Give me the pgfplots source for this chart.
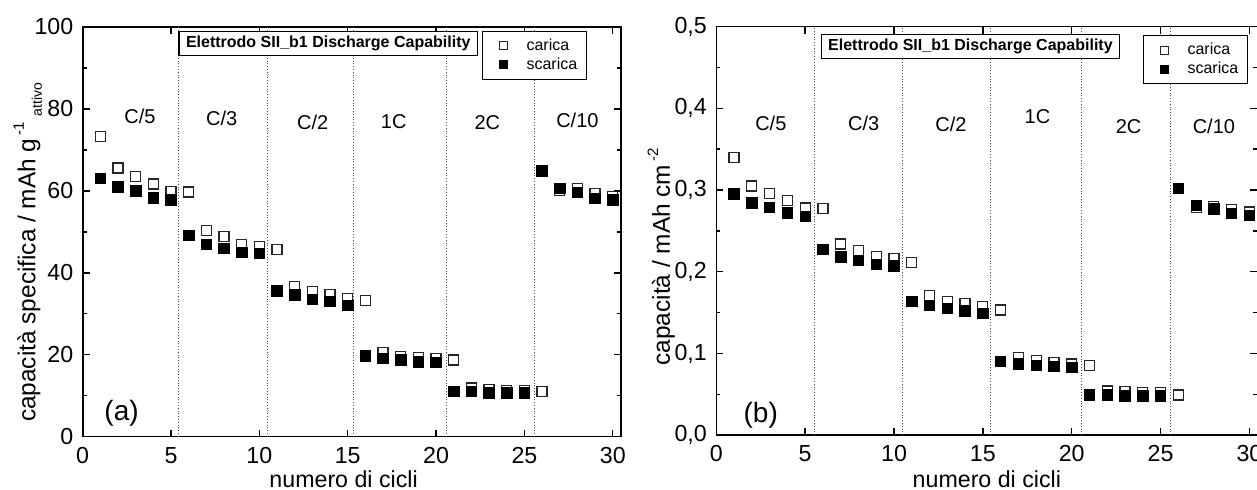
\documentclass[border=0pt]{standalone}
\usepackage{pgfplots}
\pgfplotsset{compat=1.18}
\usepackage{fontspec}
\setmainfont{Liberation Sans}

\pgfplotstableread{
x carica scarica
1 73.2 63.1
2 65.6 61.0
3 63.5 60.0
4 61.7 58.3
5 59.8 57.8
6 59.7 49.1
7 50.4 47.0
8 48.8 45.9
9 47.0 45.0
10 46.5 44.7
11 45.6 35.6
12 36.7 34.6
13 35.5 33.5
14 34.7 33.0
15 33.7 32.1
16 33.2 19.7
17 20.6 19.1
18 19.6 18.7
19 19.3 18.3
20 19.0 18.1
21 18.7 11.0
22 11.9 11.0
23 11.6 10.7
24 11.3 10.7
25 11.3 10.7
26 11.0 64.9
27 60.1 60.6
28 60.5 59.6
29 59.3 58.2
30 58.7 57.8
}\tabA

\pgfplotstableread{
x carica scarica
1 0.340 0.295
2 0.305 0.284
3 0.296 0.279
4 0.287 0.272
5 0.278 0.268
6 0.277 0.227
7 0.234 0.218
8 0.226 0.214
9 0.219 0.209
10 0.216 0.207
11 0.211 0.164
12 0.171 0.159
13 0.164 0.155
14 0.161 0.152
15 0.157 0.149
16 0.153 0.090
17 0.095 0.087
18 0.091 0.085
19 0.089 0.084
20 0.087 0.083
21 0.085 0.049
22 0.054 0.049
23 0.053 0.048
24 0.052 0.048
25 0.052 0.048
26 0.049 0.302
27 0.279 0.281
28 0.280 0.277
29 0.276 0.271
30 0.273 0.269
}\tabB

\tikzset{
  ann/.style={font=\fontsize{10}{12}\selectfont},
  tbox/.style={draw=black, line width=0.6pt, fill=white, inner xsep=3.5pt, inner ysep=2.3pt,
    font=\bfseries\fontsize{8}{9.5}\selectfont},
}

\pgfplotsset{
  myaxis/.style={
    scale only axis, anchor=south west,
    xmin=0, xmax=30.45,
    xtick={0,5,...,30},
    tick align=inside,
    axis line style={line width=0.8pt},
    major tick length=3.5pt, minor tick length=2pt,
    every tick/.style={line width=0.7pt, black},
    tick label style={font=\fontsize{11.6}{13}\selectfont},
    /pgf/number format/assume math mode=true,
    xticklabel style={yshift=-1.8pt},
    yticklabel style={xshift=-1.2pt},
    xlabel style={font=\fontsize{11.6}{13}\selectfont},
    ylabel style={font=\fontsize{12.2}{14}\selectfont},
    xlabel={numero di cicli},
    legend cell align=left,
    legend image code/.code={\path[draw=none, fill=none] (0cm,-2pt) rectangle (0.62cm,2pt);
      \draw[mark repeat=2,mark phase=2,##1] plot coordinates {(0cm,0cm) (0.25cm,0cm) (0.62cm,0cm)};},
    legend image post style={mark size=2pt},
    legend style={font=\fontsize{8}{9.5}\selectfont, draw=black, line width=0.6pt,
      anchor=north west, inner xsep=3.5pt, inner ysep=2.5pt,
      nodes={inner sep=1pt, text height=5.9pt, text depth=1.6pt}},
  },
  carica/.style={only marks, mark=square*, mark size=2.5pt,
    mark options={fill=white, draw=black!85, line width=0.6pt}},
  scarica/.style={only marks, mark=square*, mark size=2.6pt,
    mark options={fill=black, draw=black}},
  sep/.style={forget plot, densely dotted, black!70, line width=0.4pt},
}

\begin{document}
\begin{tikzpicture}
\begin{axis}[myaxis,
  at={(41.35pt,26.65pt)}, width=269pt, height=204.85pt,
  ymin=0, ymax=100, ytick={0,20,...,100}, minor y tick num=1,
  xlabel style={at={(axis description cs:0.485,-0.125)}, anchor=base},
  ylabel={capacità specifica / mAh g\hspace{1.5pt}\raisebox{0.9ex}{\fontsize{7.5}{8}\selectfont -1}\hspace{3pt}\raisebox{-0.5ex}{\fontsize{7}{8}\selectfont attivo}},
  ylabel style={at={(axis description cs:-0.088,0.45)}, anchor=base},
  legend style={at={(0.7416,0.991)}},
]
\addplot[sep] coordinates {(5.41,0) (5.41,100)};
\addplot[sep] coordinates {(10.45,0) (10.45,100)};
\addplot[sep] coordinates {(15.32,0) (15.32,100)};
\addplot[sep] coordinates {(20.6,0) (20.6,100)};
\addplot[sep] coordinates {(25.55,0) (25.55,100)};
\addplot[carica] table[x=x, y=carica] {\tabA};
\addplot[scarica] table[x=x, y=scarica] {\tabA};
\legend{carica, scarica}
\node[ann] at (axis cs:3.24,78.2) {C/5};
\node[ann] at (axis cs:7.87,77.6) {C/3};
\node[ann] at (axis cs:13.02,76.8) {C/2};
\node[ann] at (axis cs:17.6,76.8) {1C};
\node[ann] at (axis cs:22.9,76.7) {2C};
\node[ann] at (axis cs:28.0,77.2) {C/10};
\node[font=\fontsize{14}{16}\selectfont] at (axis cs:2.2,5.6) {(a)};
\node[tbox] at (axis cs:13.9,96.0) {Elettrodo SII\_b1 Discharge Capability};
\end{axis}

\begin{axis}[myaxis,
  at={(358.15pt,27.45pt)}, width=270.55pt, height=204.25pt,
  ymin=0, ymax=0.5, ytick={0,0.1,...,0.5}, minor y tick num=1,
  yticklabel style={/pgf/number format/.cd, fixed, fixed zerofill, precision=1, use comma},
  xlabel style={at={(axis description cs:0.5,-0.1295)}, anchor=base},
  ylabel={capacità / mAh cm\hspace{1.5pt}\raisebox{0.9ex}{\fontsize{7.5}{8}\selectfont -2}},
  ylabel style={at={(axis description cs:-0.086,0.436)}, anchor=base},
  legend style={at={(0.788,0.979)}},
]
\addplot[sep] coordinates {(5.52,0) (5.52,0.5)};
\addplot[sep] coordinates {(10.49,0) (10.49,0.5)};
\addplot[sep] coordinates {(15.42,0) (15.42,0.5)};
\addplot[sep] coordinates {(20.56,0) (20.56,0.5)};
\addplot[sep] coordinates {(25.57,0) (25.57,0.5)};
\addplot[carica] table[x=x, y=carica] {\tabB};
\addplot[scarica] table[x=x, y=scarica] {\tabB};
\legend{carica, scarica}
\node[ann] at (axis cs:3.07,0.381) {C/5};
\node[ann] at (axis cs:8.3,0.382) {C/3};
\node[ann] at (axis cs:13.2,0.380) {C/2};
\node[ann] at (axis cs:18.07,0.390) {1C};
\node[ann] at (axis cs:23.2,0.377) {2C};
\node[ann] at (axis cs:28.0,0.378) {C/10};
\node[font=\fontsize{14}{16}\selectfont] at (axis cs:2.5,0.024) {(b)};
\node[tbox] at (axis cs:14.3,0.476) {Elettrodo SII\_b1 Discharge Capability};
\end{axis}
\pgfresetboundingbox
\path[use as bounding box] (0,0) rectangle (628.5pt,245pt);
\end{tikzpicture}
\end{document}
